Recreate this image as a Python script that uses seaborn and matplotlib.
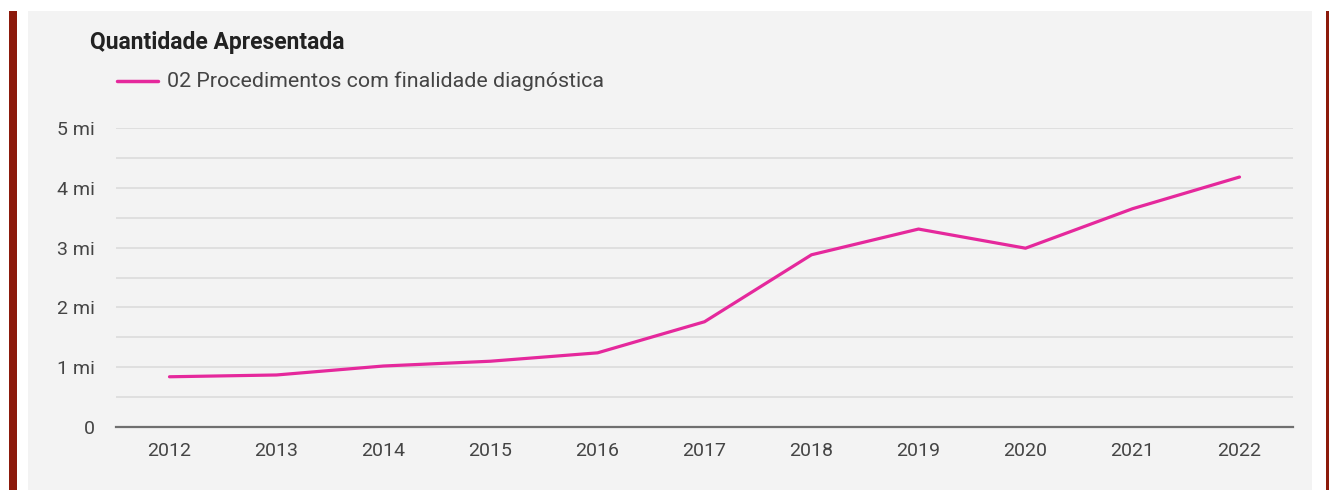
import matplotlib
matplotlib.use("Agg")
import matplotlib.pyplot as plt
from matplotlib.patches import Rectangle
from matplotlib.ticker import FuncFormatter, MultipleLocator
import pandas as pd
import seaborn as sns

# Annual quantity presented (millions)
years = ["2012", "2013", "2014", "2015", "2016", "2017",
         "2018", "2019", "2020", "2021", "2022"]
quantidade_mi = [0.84, 0.87, 1.02, 1.10, 1.24, 1.76,
                 2.88, 3.31, 2.99, 3.65, 4.18]
series_name = "02 Procedimentos com finalidade diagnóstica"
chart_title = "Quantidade Apresentada"
y_ticks = [0, 1, 2, 3, 4, 5]

df = pd.DataFrame({"ano": years, "quantidade": quantidade_mi, "serie": series_name})

sns.set_theme(style="white")
plt.rcParams["font.family"] = ["Roboto", "DejaVu Sans"]

W, H = 1329, 490
fig = plt.figure(figsize=(W / 100, H / 100), dpi=100, facecolor="white")

def fx(px):
    return px / W

def fy(py):
    return 1 - py / H

# Panel background and side accent bars
fig.patches.append(Rectangle((fx(28), 0), fx(1312 - 28), fy(11), transform=fig.transFigure,
                             facecolor="#f3f3f3", edgecolor="none", zorder=-2))
fig.patches.append(Rectangle((fx(9), 0), fx(7.5), fy(11), transform=fig.transFigure,
                             facecolor="#8c1a0b", edgecolor="none", zorder=-2))
fig.patches.append(Rectangle((fx(1325.5), 0), fx(4), fy(11), transform=fig.transFigure,
                             facecolor="#8c1a0b", edgecolor="none", zorder=-2))

ax = fig.add_axes([fx(116), fy(427), fx(1293 - 116), fy(128) - fy(427)])
ax.set_zorder(1)
ax.set_facecolor("none")
ax.patch.set_alpha(0)

line_color = "#e5289c"
sns.lineplot(data=df, x="ano", y="quantidade", hue="serie", palette=[line_color],
             linewidth=2.3, ax=ax, legend=False, sort=False)

ax.set_xlim(-0.5, len(years) - 0.5)
ax.set_ylim(0, 5)
ax.set_yticks(y_ticks)
ax.yaxis.set_minor_locator(MultipleLocator(0.5))
ax.yaxis.set_major_formatter(FuncFormatter(lambda v, p: "0" if v == 0 else f"{int(v)} mi"))
ax.grid(axis="y", which="both", color="#dcdcdc", linewidth=1.2)
ax.set_axisbelow(True)
for s in ["top", "right", "left"]:
    ax.spines[s].set_visible(False)
ax.spines["bottom"].set_color("#6f6f6f")
ax.spines["bottom"].set_linewidth(1.6)
ax.spines["bottom"].set_zorder(3)
ax.tick_params(axis="y", which="both", length=0, pad=15, labelsize=14, labelcolor="#444444")
ax.tick_params(axis="x", length=0, pad=11, labelsize=14, labelcolor="#444444")
ax.set_xlabel("")
ax.set_ylabel("")

fig.text(fx(90), fy(42), chart_title, fontsize=16.5, fontweight="bold", color="#222222",
         ha="left", va="center")

# Legend entry
fig.lines.append(plt.Line2D([fx(117), fx(158)], [fy(81), fy(81)], transform=fig.transFigure,
                            color=line_color, linewidth=2.5))
fig.text(fx(167), fy(81), series_name, fontsize=15.4, color="#444444", ha="left", va="center")

fig.savefig("out.png", dpi=100, facecolor="white")
